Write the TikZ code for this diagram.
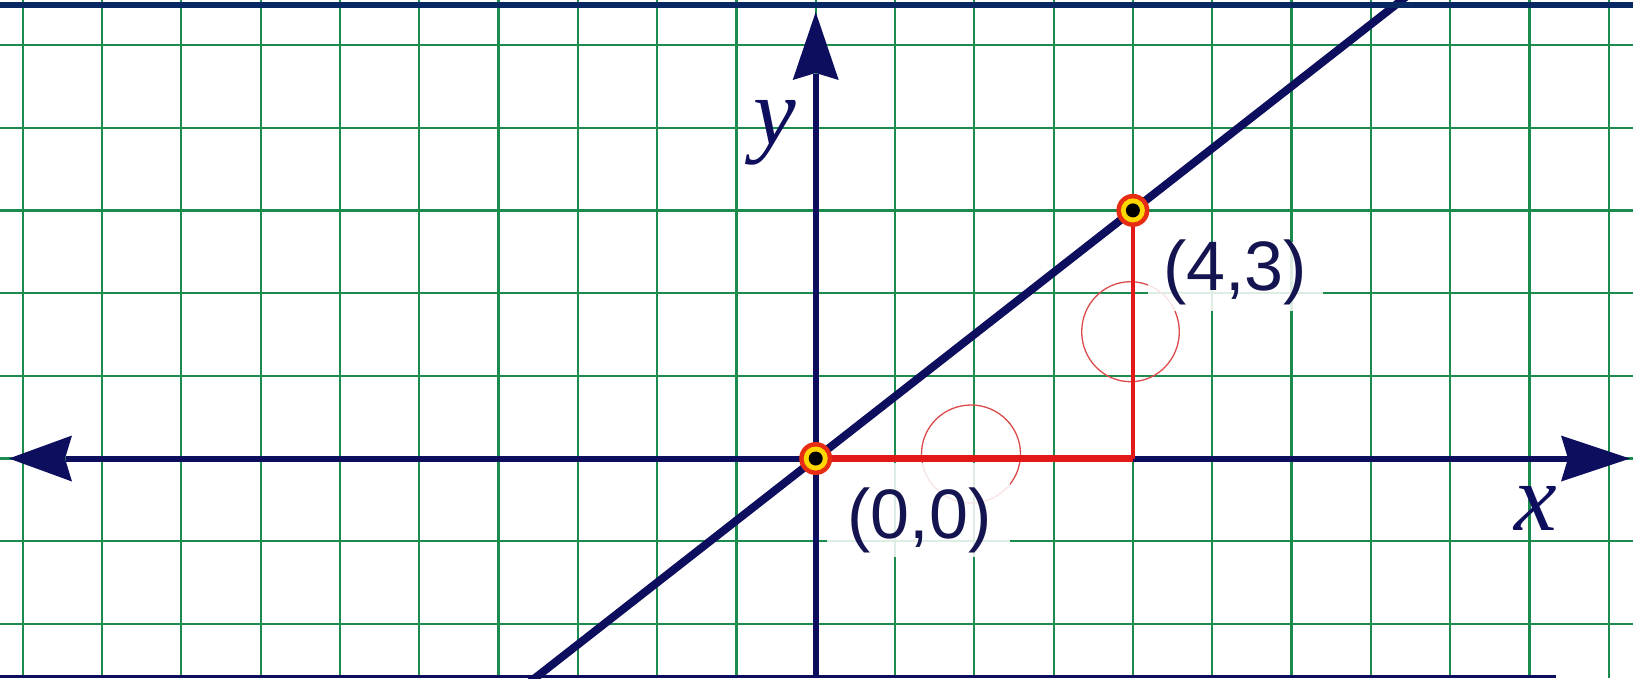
\documentclass[tikz,border=0pt]{standalone}
\usepackage{fontspec}
\setmainfont{Liberation Sans}
\newfontfamily\serifit{Liberation Serif}
\usetikzlibrary{calc}
\definecolor{gridgreen}{RGB}{28,140,78}
\definecolor{navy}{RGB}{14,14,94}
\definecolor{topblue}{RGB}{8,40,100}
\definecolor{legred}{RGB}{225,25,25}
\definecolor{circred}{RGB}{220,75,75}
\definecolor{ptred}{RGB}{230,45,20}
\definecolor{ptyellow}{RGB}{255,215,0}
\definecolor{lblnavy}{RGB}{20,20,80}
\begin{document}
\begin{tikzpicture}[x=1pt,y=-1pt,
  gridline/.style={draw=gridgreen,line width=2.2pt},
  axisline/.style={draw=navy,line width=6pt},
  arrowhead/.style={fill=navy},
  graphline/.style={draw=navy,line width=8pt},
  legh/.style={draw=legred,line width=6.5pt},
  legv/.style={draw=legred,line width=4pt},
  thincirc/.style={draw=circred,line width=1.3pt},
  labelbox/.style={fill=white,fill opacity=0.85},
  coordlbl/.style={anchor=base,text=lblnavy,font=\fontsize{70}{70}\selectfont,inner sep=0pt},
  axislbl/.style={anchor=base,text=navy,font=\serifit\itshape\fontsize{96}{96}\selectfont,inner sep=0pt}]
\useasboundingbox (0,0) rectangle (1633,678);
\fill[white] (0,0) rectangle (1633,678);
% grid
\foreach \i in {0,...,20} \draw[gridline] ({22.7+79.3*\i},0) -- ({22.7+79.3*\i},678);
\foreach \j in {0,...,7} \draw[gridline] (0,{45+82.7*\j}) -- (1633,{45+82.7*\j});
% key points
\coordinate (O) at (815.7,458.5);
\coordinate (Q) at (1132.9,458.5);
\coordinate (P) at (1132.9,210.4);
\coordinate (xl) at (9,458.5);
\coordinate (xr) at (1630,458.5);
\coordinate (yt) at (815.7,12);
\coordinate (yb) at (815.7,678);
% thin red circles
\draw[thincirc] (971,454) ellipse [x radius=49.5pt, y radius=49pt];
\draw[thincirc] (1130.5,331.7) ellipse [x radius=48.8pt, y radius=50pt];
% label backgrounds
\fill[labelbox] (827,463) rectangle (1010,557);
\fill[labelbox] (1148,242) rectangle (1323,311);
% axes
\draw[axisline] (66,458.5) -- (1568,458.5);
\draw[axisline] (yb) -- (815.7,74);
\fill[arrowhead] (xr) -- (1561,435.5) -- (1568,458.5) -- (1561,481.5) -- cycle;
\fill[arrowhead] (xl) -- (72,435.5) -- (65,458.5) -- (72,481.5) -- cycle;
\fill[arrowhead] (yt) -- (792.7,80) -- (815.7,73) -- (838.7,80) -- cycle;
% red legs
\draw[legh] (O) -- (Q);
\draw[legv] (Q) -- (P);
% graph line
\draw[graphline] ($(O)!-0.9!(P)$) -- ($(O)!1.9!(P)$);
% borders
\fill[topblue] (0,2) rectangle (1633,8);
\fill[navy] (0,674.5) rectangle (1556,678);
% points
\foreach \p in {O,P}{
  \fill[ptred] (\p) circle[radius=16.5pt];
  \fill[ptyellow] (\p) circle[radius=12pt];
  \fill[black] (\p) circle[radius=7pt];
}
% labels
\node[coordlbl] (lo) at (919.5,538) {(0,0)};
\node[coordlbl] (lp) at (1235,290.7) {(4,3)};
\node[axislbl] (lx) at (1536,530) {x};
\node[axislbl] (ly) at (775,144) {y};
\end{tikzpicture}
\end{document}
